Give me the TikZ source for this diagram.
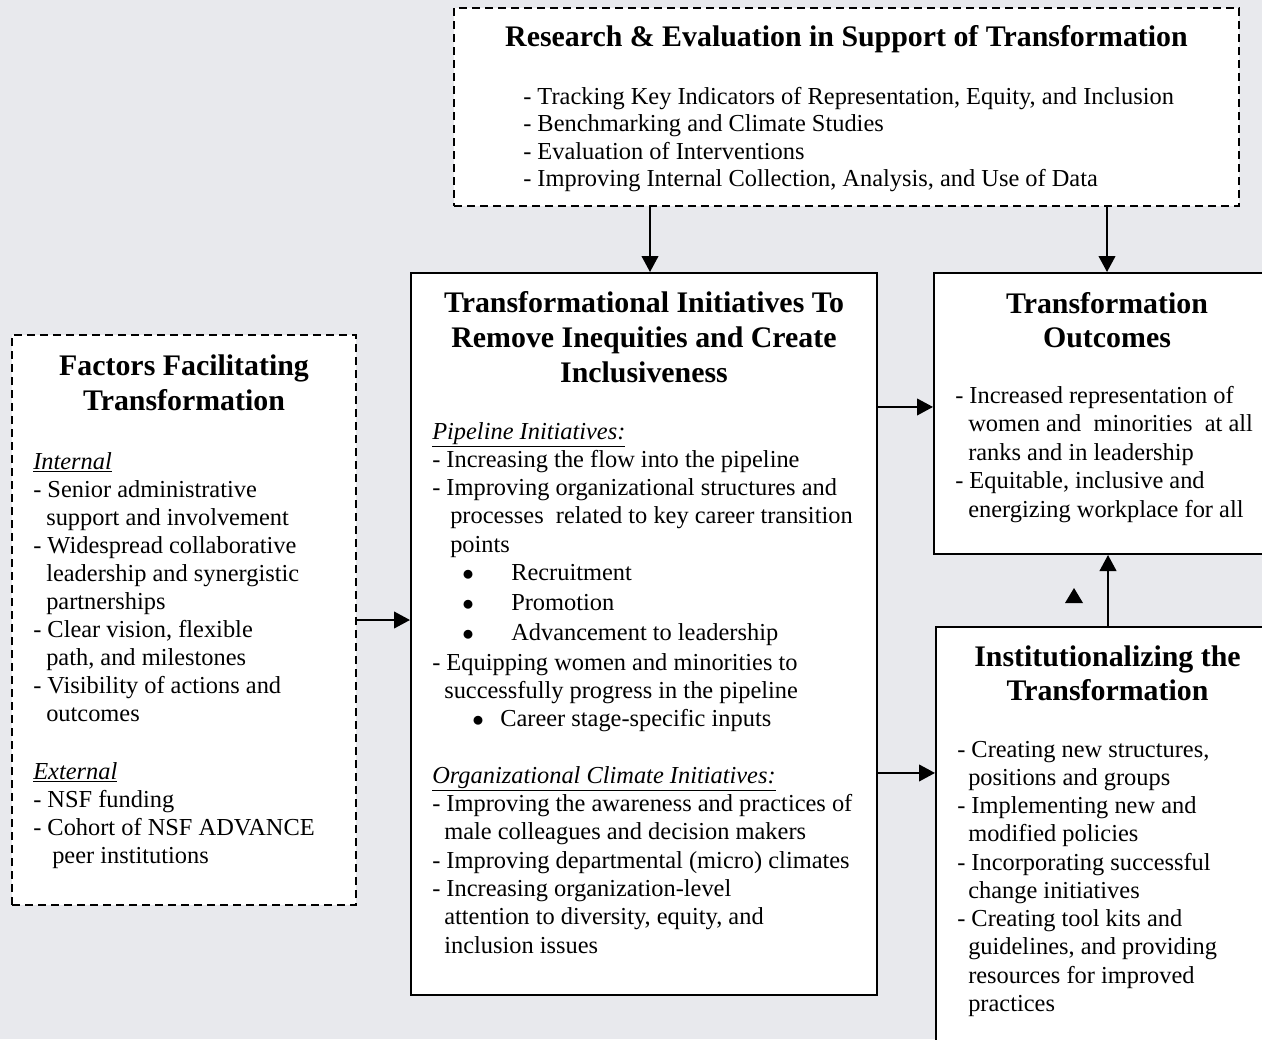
\documentclass[tikz,border=0pt]{standalone}
\usepackage{fontspec}
\setmainfont{Liberation Serif}
\usetikzlibrary{arrows.meta}
\definecolor{bgc}{RGB}{232,233,237}
\newcommand\bodyf[1]{\fontsize{18.3pt}{#1}\selectfont}
\newcommand\titlef[1]{\fontsize{22.4pt}{#1}\selectfont\bfseries}
\newcommand\uit[1]{\underline{\textit{#1}}}
\newcommand\bul[2]{\hspace*{#1}\makebox[#2][l]{$\bullet$}}
\begin{document}
\begin{tikzpicture}[x=0.75pt,y=-0.75pt,
  solidbox/.style={draw, fill=white, line width=1.5pt, inner sep=0pt},
  dashbox/.style={draw, fill=white, line width=1.2pt, dash pattern=on 6pt off 3.75pt, inner sep=0pt},
  txt/.style={anchor=base west, inner sep=0pt, align=left},
  ttl/.style={anchor=base, inner sep=0pt},
  arr/.style={line width=1.5pt, -{Triangle[length=12pt,width=12.5pt]}}]
\useasboundingbox (0,0) rectangle (1262,1039);
\fill[bgc] (0,0) rectangle (1262,1039);
\clip (0,0) rectangle (1262,1039);

% boxes
\node[dashbox, minimum width=588.75pt, minimum height=148.5pt] (research) at (846.5,107) {};
\node[dashbox, minimum width=258pt, minimum height=427.5pt] (factors) at (184,620) {};
\node[solidbox, minimum width=349.5pt, minimum height=541.5pt] (main) at (644,634) {};
\node[solidbox, minimum width=259.5pt, minimum height=210.75pt] (out) at (1107,413.5) {};
\node[solidbox, minimum width=258pt, minimum height=324.75pt] (inst) at (1108,843.5) {};

% research text
\node[ttl] (rtitle) at (846.5,46) {\parbox[t]{570pt}{\centering\titlef{26pt}Research \& Evaluation in Support of Transformation}};
\node[txt] (rbody) at (523,104) {\parbox[t]{560pt}{\raggedright\bodyf{20.7pt}%
- Tracking Key Indicators of Representation, Equity, and Inclusion\\
- Benchmarking and Climate Studies\\
- Evaluation of Interventions\\
- Improving Internal Collection, Analysis, and Use of Data}};

% factors text
\node[ttl] (ftitle) at (184,375) {\parbox[t]{250pt}{\centering\titlef{26.25pt}Factors Facilitating\\Transformation}};
\node[txt] (fint) at (33,469) {\parbox[t]{250pt}{\raggedright\bodyf{21pt}%
\uit{Internal}\\
- Senior administrative\\
\hspace*{9.75pt}support and involvement\\
- Widespread collaborative\\
\hspace*{9.75pt}leadership and synergistic\\
\hspace*{9.75pt}partnerships\\
- Clear vision, flexible\\
\hspace*{9.75pt}path, and milestones\\
- Visibility of actions and\\
\hspace*{9.75pt}outcomes}};
\node[txt] (fext) at (33,779) {\parbox[t]{250pt}{\raggedright\bodyf{21pt}%
\uit{External}\\
- NSF funding\\
- Cohort of NSF ADVANCE\\
\hspace*{14.25pt}peer institutions}};

% main text
\node[ttl] (mtitle) at (644,312) {\parbox[t]{345pt}{\centering\titlef{26.25pt}Transformational Initiatives To\\Remove Inequities and Create\\Inclusiveness}};
\node[txt] (mbody) at (432,439) {\parbox[t]{340pt}{\raggedright\bodyf{21.2pt}%
\uit{Pipeline Initiatives:}\\
- Increasing the flow into the pipeline\\
- Improving organizational structures and\\
\hspace*{13.5pt}processes~ related to key career transition\\
\hspace*{13.5pt}points\\
\bul{22.5pt}{36.75pt}Recruitment\\[1.3pt]
\bul{22.5pt}{36.75pt}Promotion\\[1.3pt]
\bul{22.5pt}{36.75pt}Advancement to leadership\\[1.3pt]
- Equipping women and minorities to\\
\hspace*{9pt}successfully progress in the pipeline\\
\bul{30pt}{21pt}Career stage-specific inputs\\[21.2pt]
\uit{Organizational Climate Initiatives:}\\
- Improving the awareness and practices of\\
\hspace*{9pt}male colleagues and decision makers\\
- Improving departmental (micro) climates\\
- Increasing organization-level\\
\hspace*{9pt}attention to diversity, equity, and\\
\hspace*{9pt}inclusion issues}};

% outcomes text
\node[ttl] (otitle) at (1107,313) {\parbox[t]{255pt}{\centering\titlef{25.5pt}Transformation\\Outcomes}};
\node[txt] (obody) at (955,403) {\parbox[t]{250pt}{\raggedright\bodyf{21.4pt}%
- Increased representation of\\
\hspace*{9.75pt}women and~ minorities~ at all\\
\hspace*{9.75pt}ranks and in leadership\\
- Equitable, inclusive and\\
\hspace*{9.75pt}energizing workplace for all}};

% institutionalizing text
\node[ttl] (ititle) at (1107.5,666) {\parbox[t]{255pt}{\centering\titlef{25.5pt}Institutionalizing the\\Transformation}};
\node[txt] (ibody) at (957,757) {\parbox[t]{250pt}{\raggedright\bodyf{21.2pt}%
- Creating new structures,\\
\hspace*{8.25pt}positions and groups\\
- Implementing new and\\
\hspace*{8.25pt}modified policies\\
- Incorporating successful\\
\hspace*{8.25pt}change initiatives\\
- Creating tool kits and\\
\hspace*{8.25pt}guidelines, and providing\\
\hspace*{8.25pt}resources for improved\\
\hspace*{8.25pt}practices}};

% connectors
\coordinate (m1) at ([xshift=4.5pt]main.north);
\coordinate (o1) at ([yshift=4.9pt]out.west);
\coordinate (i1) at ([yshift=52.9pt]inst.west);
\draw[arr] (research.south -| m1) -- (m1);
\draw[arr] (research.south -| out.north) -- (out.north);
\draw[arr] (factors.east) -- (factors.east -| main.west);
\draw[arr] (main.east |- o1) -- (o1);
\draw[arr] (main.east |- i1) -- (i1);
\draw[arr] (inst.north) -- (inst.north |- out.south);

% stray triangle
\fill (1065,603) -- (1083,603) -- (1074,588) -- cycle;
\end{tikzpicture}
\end{document}
